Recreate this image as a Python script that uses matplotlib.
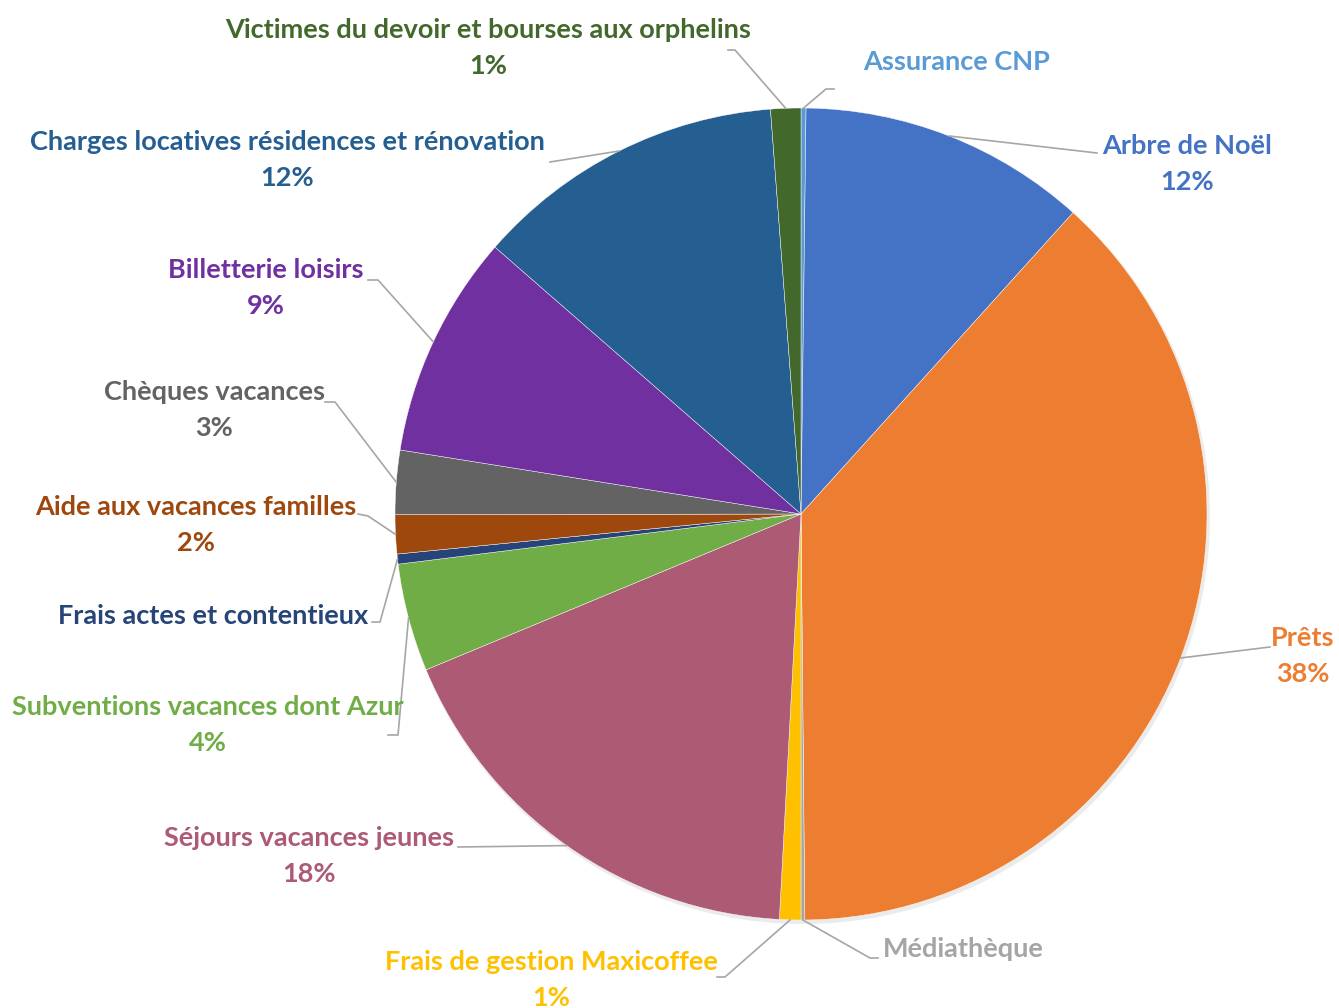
import numpy as np
import matplotlib.pyplot as plt

# postes de depense (ordre des aiguilles d'une montre depuis midi)
postes = ['Assurance CNP', 'Arbre de Noël', 'Prêts', 'Médiathèque',
          'Frais de gestion Maxicoffee', 'Séjours vacances jeunes',
          'Subventions vacances dont Azur', 'Frais actes et contentieux',
          'Aide aux vacances familles', 'Chèques vacances', 'Billetterie loisirs',
          'Charges locatives résidences et rénovation',
          'Victimes du devoir et bourses aux orphelins']
parts = [0.2, 11.5, 38.2, 0.15, 0.85, 17.9, 4.3, 0.4, 1.55, 2.55, 8.9, 12.4, 1.2]
pourcents = ['', '12%', '38%', '', '1%', '18%', '4%', '', '2%', '3%', '9%', '12%', '1%']

couleurs = ['#5B9BD5', '#4472C4', '#ED7D31', '#A5A5A5', '#FFC000', '#AD5A74',
            '#70AD47', '#264478', '#9E480E', '#636363', '#7030A0', '#255E91', '#43682B']

# position des etiquettes (px) et coude de la ligne de rappel
lab_pos = [(957, 62), (1187, 146), (1303, 638), (963, 949), (551, 962), (309, 838),
           (208, 707), (213, 616), (196, 507), (214, 392), (266, 270), (287, 142), (488, 30)]
coudes = [[(826, 89), (834, 89)], [(1097, 153)], [(1270, 647)], [(870, 958), (878, 958)],
          [(725, 977), (717, 977)], [(458, 847)], [(398, 735), (388, 735)],
          [(380, 622), (372, 622)], [(368, 516), (358, 514)], [(335, 402), (325, 402)],
          [(378, 280), (368, 280)], [(550, 162)], [(735, 50), (728, 50)]]

W, H = 1339, 1008
cx, cy, R = 801, 514, 406

fig = plt.figure(figsize=(W / 100, H / 100), dpi=100)
ax = fig.add_axes([0, 0, 1, 1])

# ombre legere
ax.add_patch(plt.Circle((cx + 2, cy + 3), R + 1, color='#d9d9d9', alpha=0.5, lw=0))

wedges, _ = ax.pie(parts, colors=couleurs, startangle=-90, counterclock=True,
                   center=(cx, cy), radius=R, frame=True,
                   wedgeprops=dict(linewidth=0.3, edgecolor='white'))
ax.set_xlim(0, W)
ax.set_ylim(H, 0)
ax.set_aspect('equal')
ax.axis('off')

police = 'Lato'
for w, nom, pct, col, (lx, ly), pts in zip(wedges, postes, pourcents, couleurs, lab_pos, coudes):
    a = np.deg2rad((w.theta1 + w.theta2) / 2)
    x0, y0 = cx + R * np.cos(a), cy + R * np.sin(a)
    xs = [x0] + [p[0] for p in pts]
    ys = [y0] + [p[1] for p in pts]
    ax.plot(xs, ys, color='#a6a6a6', lw=1.2, zorder=1)
    ax.text(lx, ly, nom, color=col, fontsize=19.5, fontweight='bold', family=police,
            ha='center', va='center')
    if pct:
        ax.text(lx, ly + 36, pct, color=col, fontsize=19.5, fontweight='bold', family=police,
                ha='center', va='center')

fig.savefig('out.png', dpi=100, facecolor='white')
